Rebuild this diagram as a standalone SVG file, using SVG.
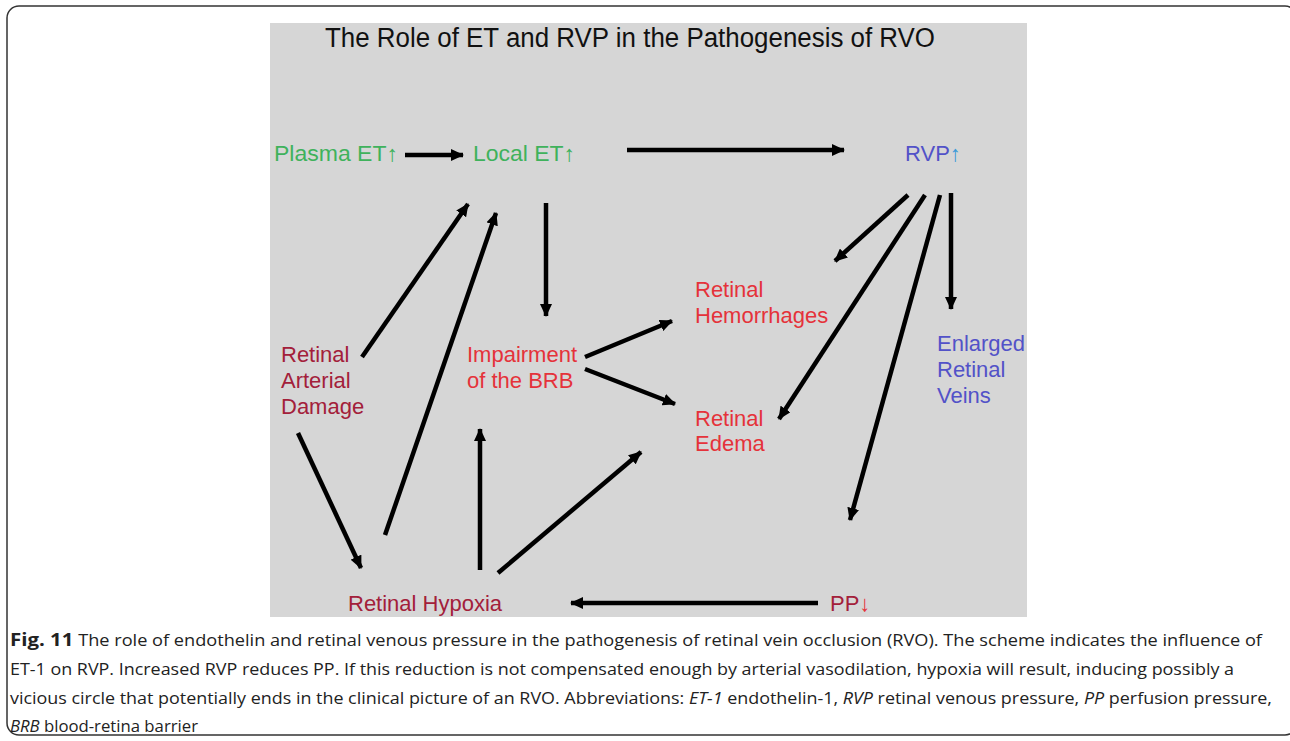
<svg xmlns="http://www.w3.org/2000/svg" width="1290" height="741" viewBox="0 0 1290 741">
<defs>
<marker id="ah" markerUnits="userSpaceOnUse" markerWidth="14" markerHeight="12" refX="12" refY="6" orient="auto">
<path d="M0,0 L13,6 L0,12 Z" fill="#000"/>
</marker>
<style>
.lbl{font-family:"Liberation Sans",Arial,sans-serif;font-size:22px}
.g{fill:#3fb25c}
.r{fill:#e5323a}
.dr{fill:#a3203a}
.b{fill:#5252c8}
.cn line{stroke:#000;stroke-width:4.5;marker-end:url(#ah)}
.cap{font-family:"Open Sans","Liberation Sans",sans-serif;font-size:16px;fill:#222}
</style>
</defs>
<rect x="0" y="0" width="1290" height="741" fill="#fff"/>
<rect x="7" y="6" width="1290" height="729" rx="12" fill="none" stroke="#333" stroke-width="1.5"/>
<rect x="270" y="23" width="757" height="594" fill="#d6d6d6"/>
<text x="630" y="47" text-anchor="middle" font-family="Liberation Sans, Arial, sans-serif" font-size="27" fill="#111" textLength="610" lengthAdjust="spacingAndGlyphs">The Role of ET and RVP in the Pathogenesis of RVO</text>

<g id="plasma-et"><text class="lbl g" x="274" y="161" textLength="124" lengthAdjust="spacingAndGlyphs">Plasma ET↑</text></g>
<g id="local-et"><text class="lbl g" x="473" y="161" textLength="102" lengthAdjust="spacingAndGlyphs">Local ET↑</text></g>
<g id="rvp"><text class="lbl" x="905" y="161"><tspan class="b">RVP</tspan><tspan fill="#3a9ad9">↑</tspan></text></g>
<g id="hemorrhages"><text class="lbl r" x="695" y="297">Retinal</text><text class="lbl r" x="695" y="323">Hemorrhages</text></g>
<g id="impairment"><text class="lbl r" x="467" y="362">Impairment</text><text class="lbl r" x="467" y="388">of the BRB</text></g>
<g id="arterial-damage"><text class="lbl dr" x="281" y="362">Retinal</text><text class="lbl dr" x="281" y="388">Arterial</text><text class="lbl dr" x="281" y="414">Damage</text></g>
<g id="edema"><text class="lbl r" x="695" y="426">Retinal</text><text class="lbl r" x="695" y="451">Edema</text></g>
<g id="enlarged-veins"><text class="lbl b" x="937" y="351">Enlarged</text><text class="lbl b" x="937" y="377">Retinal</text><text class="lbl b" x="937" y="403">Veins</text></g>
<g id="hypoxia"><text class="lbl dr" x="348" y="611">Retinal Hypoxia</text></g>
<g id="pp"><text class="lbl" x="830" y="611"><tspan class="dr">PP</tspan><tspan fill="#e5323a">↓</tspan></text></g>

<g id="connectors" class="cn">
<line x1="405" y1="155" x2="463" y2="155"/>
<line x1="627" y1="150" x2="844" y2="150"/>
<line x1="546" y1="203" x2="546" y2="316"/>
<line x1="585" y1="357" x2="672" y2="321"/>
<line x1="585" y1="369" x2="675" y2="404"/>
<line x1="908" y1="195" x2="835" y2="261"/>
<line x1="925" y1="195" x2="779" y2="419"/>
<line x1="940" y1="195" x2="850" y2="520"/>
<line x1="951" y1="193" x2="951" y2="309"/>
<line x1="362" y1="357" x2="468" y2="204"/>
<line x1="385" y1="535" x2="496" y2="213"/>
<line x1="298" y1="433" x2="361" y2="568"/>
<line x1="480" y1="570" x2="480" y2="429"/>
<line x1="498" y1="573" x2="641" y2="452"/>
<line x1="818" y1="603" x2="571" y2="603"/>
</g>

<g id="caption">
<text class="cap" x="10" y="646" textLength="1252" lengthAdjust="spacingAndGlyphs"><tspan font-weight="bold" font-size="18">Fig. 11</tspan> The role of endothelin and retinal venous pressure in the pathogenesis of retinal vein occlusion (RVO). The scheme indicates the influence of</text>
<text class="cap" x="10" y="675" textLength="1224" lengthAdjust="spacingAndGlyphs">ET-1 on RVP. Increased RVP reduces PP. If this reduction is not compensated enough by arterial vasodilation, hypoxia will result, inducing possibly a</text>
<text class="cap" x="10" y="704" textLength="1262" lengthAdjust="spacingAndGlyphs">vicious circle that potentially ends in the clinical picture of an RVO. Abbreviations: <tspan font-style="italic">ET-1</tspan> endothelin-1, <tspan font-style="italic">RVP</tspan> retinal venous pressure, <tspan font-style="italic">PP</tspan> perfusion pressure,</text>
<text class="cap" x="10" y="732" textLength="188" lengthAdjust="spacingAndGlyphs"><tspan font-style="italic">BRB</tspan> blood-retina barrier</text>
</g>
</svg>
